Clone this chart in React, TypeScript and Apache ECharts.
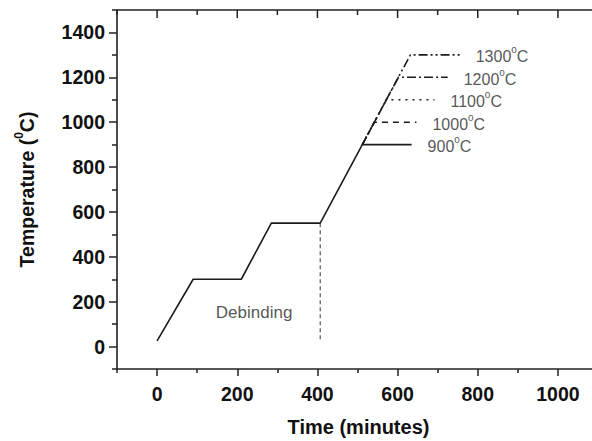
import React, { useEffect, useRef } from "react";
import * as echarts from "echarts";

// Base sintering profile (time in minutes, temperature in °C)
const baseTime = [0, 90, 210, 285, 407, 512, 635];
const baseTemp = [25, 300, 300, 550, 550, 900, 900];

// Higher sintering temperatures: ramp from the 900 °C point, then hold
const rampStart = [512, 900];
const sinterTemps = [1000, 1100, 1200, 1300];
const holdStart = [542, 572, 602, 632];
const holdEnd = [647, 692, 725, 755];

// Label anchors: end of each hold
const labelTemps = [900, 1000, 1100, 1200, 1300];
const labelTimes = [635, 647, 692, 725, 755];

// Debinding marker
const debindTime = 407;
const debindTop = 550;
const debindBottom = 30;
const debindLabelPos = [242, 152];

// Axis ranges and ticks (the plot frame continues past the right edge)
const xMin = -100;
const xMax = 1085;
const yMin = -100;
const yMax = 1500;
const xMajorTicks = [0, 200, 400, 600, 800, 1000];
const xMinorTicks = [-100, 100, 300, 500, 700, 900];
const yMajorTicks = [0, 200, 400, 600, 800, 1000, 1200, 1400];
const yMinorTicks = [-100, 100, 300, 500, 700, 900, 1100, 1300, 1500];

const dashPatterns: any[] = [
  [6, 5],
  [2, 5],
  [9, 3, 2, 3],
  [9, 3, 2, 3, 2, 3],
];

const FONT = "'Liberation Sans', Arial, sans-serif";
const LINE = "#1c1c1c";
const AX = "#222";

const tempRich = {
  n: { fontSize: 16, fontFamily: FONT, color: "#2a2a2a", lineHeight: 20, verticalAlign: "bottom" },
  s: { fontSize: 10, fontFamily: FONT, color: "#2a2a2a", lineHeight: 20, verticalAlign: "top" },
};

const topTickSeries = (ticks: number[], len: number) => ({
  type: "custom",
  data: ticks.map((v) => [v, yMax]),
  clip: false,
  silent: true,
  z: 20,
  renderItem: (_params: any, api: any) => {
    const p = api.coord([api.value(0), yMax]);
    return {
      type: "line",
      shape: { x1: p[0], y1: p[1], x2: p[0], y2: p[1] + len },
      style: { stroke: AX, lineWidth: 1.5 },
    };
  },
});

export default function App() {
  const ref = useRef<HTMLDivElement>(null);
  useEffect(() => {
    document.body.style.margin = "0";
    const chart = echarts.init(ref.current!, null, { renderer: "svg" });

    const xCommon = { type: "value", min: xMin, max: xMax, gridIndex: 0 };
    const yCommon = { type: "value", min: yMin, max: yMax, gridIndex: 0 };

    const series: any[] = [];
    series.push({
      type: "line",
      data: baseTime.map((t, i) => [t, baseTemp[i]]),
      symbol: "none",
      lineStyle: { color: LINE, width: 1.6 },
      z: 5,
    });
    sinterTemps.forEach((t, k) => {
      series.push({
        type: "line",
        data: [rampStart, [holdStart[k], t], [holdEnd[k], t]],
        symbol: "none",
        lineStyle: { color: LINE, width: 1.6, type: dashPatterns[k] },
        z: 4,
      });
    });
    series.push({
      type: "scatter",
      data: labelTimes.map((t, i) => [t, labelTemps[i]]),
      symbolSize: 0,
      label: {
        show: true,
        position: "right",
        distance: 16,
        formatter: (p: any) => `{n|${p.value[1]}}{s|o}{n|C}`,
        rich: tempRich,
      },
      z: 6,
    });
    series.push({
      type: "line",
      data: [
        [debindTime, debindTop],
        [debindTime, debindBottom],
      ],
      symbol: "none",
      lineStyle: { color: "#555", width: 1.2, type: [4, 3] },
      z: 3,
    });
    series.push({
      type: "scatter",
      data: [debindLabelPos],
      symbolSize: 0,
      label: {
        show: true,
        position: "inside",
        formatter: "Debinding",
        fontFamily: FONT,
        fontSize: 17,
        color: "#2a2a2a",
      },
    });
    // top frame line and its inward ticks
    series.push({
      type: "line",
      data: [
        [xMin, yMax],
        [xMax, yMax],
      ],
      symbol: "none",
      clip: false,
      silent: true,
      lineStyle: { color: AX, width: 1.6 },
      z: 20,
    });
    series.push(topTickSeries(xMajorTicks, 8));
    series.push(topTickSeries(xMinorTicks, 5));

    chart.setOption({
      animation: false,
      backgroundColor: "#fff",
      grid: { left: 117, top: 10, right: 0, bottom: 72, outerBoundsMode: "none" },
      xAxis: [
        {
          ...xCommon,
          position: "bottom",
          name: "Time (minutes)",
          nameLocation: "middle",
          nameGap: 48,
          nameTextStyle: { fontFamily: FONT, fontSize: 20, fontWeight: "bold", color: "#111", padding: [0, 0, 0, 8] },
          axisLine: { show: true, onZero: false, lineStyle: { color: AX, width: 1.6 } },
          axisTick: { show: true, inside: false, length: 7, customValues: xMajorTicks, lineStyle: { color: AX, width: 1.5 } },
          axisLabel: {
            show: true,
            customValues: xMajorTicks,
            formatter: (v: number) => String(v),
            margin: 15,
            fontFamily: FONT,
            fontSize: 19.5,
            fontWeight: "bold",
            color: "#111",
          },
          splitLine: { show: false },
        },
        {
          ...xCommon,
          position: "bottom",
          axisLine: { show: false, onZero: false },
          axisTick: { show: true, inside: false, length: 4, customValues: xMinorTicks, lineStyle: { color: AX, width: 1.5 } },
          axisLabel: { show: false },
          splitLine: { show: false },
        },
      ],
      yAxis: [
        {
          ...yCommon,
          position: "left",
          name: "{a|Temperature (}{s|0}{a|C)}",
          nameLocation: "middle",
          nameGap: 80,
          nameTextStyle: {
            rich: {
              a: { fontFamily: FONT, fontSize: 19.5, fontWeight: "bold", color: "#111", lineHeight: 24, verticalAlign: "bottom" },
              s: { fontFamily: FONT, fontSize: 12, fontWeight: "bold", color: "#111", lineHeight: 24, verticalAlign: "top" },
            },
          },
          axisLine: { show: true, onZero: false, lineStyle: { color: AX, width: 1.6 } },
          axisTick: { show: true, inside: false, length: 8, customValues: yMajorTicks, lineStyle: { color: AX, width: 1.5 } },
          axisLabel: {
            show: true,
            customValues: yMajorTicks,
            formatter: (v: number) => String(v),
            margin: 12,
            fontFamily: FONT,
            fontSize: 19.5,
            fontWeight: "bold",
            color: "#111",
          },
          splitLine: { show: false },
        },
        {
          ...yCommon,
          position: "left",
          axisLine: { show: false, onZero: false },
          axisTick: { show: true, inside: false, length: 5, customValues: yMinorTicks, lineStyle: { color: AX, width: 1.5 } },
          axisLabel: { show: false },
          splitLine: { show: false },
        },
      ],
      series,
    });
    return () => chart.dispose();
  }, []);
  return (
    <div
      ref={ref}
      style={{ position: "fixed", left: 0, top: 0, width: 592, height: 441, background: "#fff" }}
    />
  );
}
